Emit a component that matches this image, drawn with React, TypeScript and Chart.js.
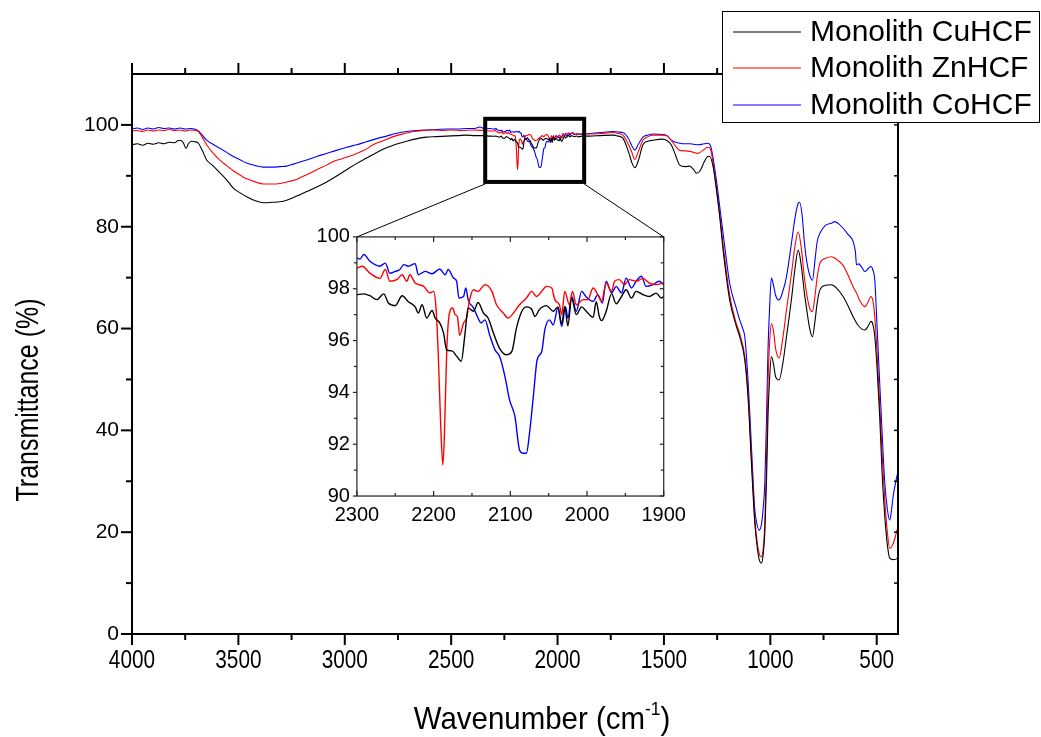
import React, { useEffect, useRef } from "react";
import { Chart, registerables } from "chart.js";

Chart.register(...registerables);

type P = [number, number];

const W = 1041;
const H = 737;
const FONT = '"Liberation Sans", Arial, sans-serif';

// ---------- tick labels ----------
const mainXTicks = [4000, 3500, 3000, 2500, 2000, 1500, 1000, 500];
const mainXMinor = [3750, 3250, 2750, 2250, 1750, 1250, 750];
const mainYTicks = [0, 20, 40, 60, 80, 100];
const mainYMinor = [10, 30, 50, 70, 90];
const mainYRight = [10, 20, 30, 40, 50, 60, 70, 80, 90, 100];
const insetXTicks = [2300, 2200, 2100, 2000, 1900];
const insetXMinor = [2250, 2150, 2050, 1950];
const insetYTicks = [90, 92, 94, 96, 98, 100];
const insetYMinor = [91, 93, 95, 97, 99];

const seriesNames = ["Monolith CuHCF", "Monolith ZnHCF", "Monolith CoHCF"];
const seriesColors = ["#000000", "#ff0000", "#0000ff"];
const xTitle = "Wavenumber (cm";
const xTitleSup = "-1";
const yTitle = "Transmittance (%)";

// zoom box and inset placement, in main data coordinates
const zoomBoxX = [2340, 1875];
const zoomBoxY = [101.2, 88.8];
const insetPlaceX = [2943, 1501];
const insetPlaceY = [78.0, 27.1];

// ---------- CuHCF (black) ----------
const cuPre: P[] = [
  [4000, 96.1], [3975, 96.3], [3950, 96.0], [3925, 96.4], [3900, 96.2], [3875, 96.5], [3850, 96.3],
  [3825, 96.6], [3800, 96.5], [3785, 96.9], [3775, 97.0], [3760, 96.6], [3746, 95.4], [3735, 96.3],
  [3720, 96.8], [3704, 96.7], [3688, 96.4], [3670, 95.0], [3649, 93.1], [3620, 92.0], [3587, 90.6],
  [3555, 89.2], [3524, 87.6], [3490, 86.6], [3461, 85.9], [3420, 85.1], [3383, 84.7], [3340, 84.8],
  [3305, 84.9], [3273, 85.2], [3242, 85.7], [3211, 86.3], [3179, 86.9], [3132, 87.8], [3085, 88.8],
  [3040, 89.9], [2991, 91.2], [2945, 92.4], [2898, 93.5], [2850, 94.6], [2804, 95.5], [2760, 96.2],
  [2710, 96.8], [2660, 97.3], [2616, 97.6], [2570, 97.7], [2522, 97.8], [2470, 97.9], [2428, 98.0],
  [2390, 97.9], [2349, 97.9], [2320, 97.8],
];
const cuInset: P[] = [
  [2300, 97.77], [2291, 97.8], [2283, 97.73], [2274, 97.58], [2265, 97.8], [2259, 97.45], [2250, 97.35],
  [2241, 97.73], [2233, 97.5], [2224, 97.3], [2220, 97.06], [2215, 97.38], [2209, 96.87], [2202, 97.16],
  [2198, 96.87], [2192, 96.68], [2187, 96.29], [2183, 95.64], [2176, 95.6], [2170, 95.4], [2164, 95.2],
  [2159, 96.29], [2155, 97.26], [2148, 97.13], [2142, 97.47], [2135, 97.06], [2129, 96.87], [2122, 96.29],
  [2114, 95.7], [2105, 95.45], [2098, 95.58], [2092, 96.48], [2085, 97.13], [2079, 97.3], [2072, 97.2],
  [2068, 96.93], [2062, 97.2], [2053, 97.35], [2044, 97.13], [2038, 97.3], [2033, 96.65], [2029, 97.32],
  [2025, 96.57], [2020, 97.64], [2014, 97.0], [2007, 97.3], [2001, 97.13], [1992, 96.9], [1988, 97.5],
  [1984, 96.93], [1981, 96.77], [1975, 97.13], [1968, 97.8], [1962, 97.42], [1955, 97.7], [1949, 97.96],
  [1942, 97.64], [1936, 97.9], [1927, 97.77], [1919, 97.7], [1910, 97.83], [1903, 97.64], [1900, 97.7],
];
const cuPost: P[] = [
  [1880, 97.8], [1848, 97.8], [1800, 97.9], [1739, 98.0], [1715, 97.8], [1693, 97.4], [1665, 94.5],
  [1650, 92.5], [1637, 91.6], [1620, 93.0], [1599, 96.1], [1575, 96.8], [1552, 97.0], [1505, 97.2],
  [1485, 96.9], [1466, 96.1], [1445, 94.0], [1426, 92.1], [1400, 91.8], [1379, 91.9], [1360, 91.2],
  [1347, 90.5], [1330, 91.0], [1310, 92.8], [1294, 93.8], [1285, 93.8], [1269, 91.8], [1253, 87.2],
  [1238, 82.0], [1222, 75.4], [1191, 65.6], [1160, 60.5], [1144, 58.4], [1120, 53.8], [1104, 46.0],
  [1088, 32.9], [1073, 21.8], [1060, 16.5], [1050, 14.3], [1042, 13.9], [1034, 15.5], [1026, 19.8],
  [1018, 30.0], [1011, 42.7], [1003, 50.5], [995, 54.5], [985, 53.0], [975, 50.5], [959, 49.9],
  [940, 53.5], [924, 58.4], [900, 66.0], [885, 71.5], [869, 75.4], [855, 72.5], [840, 67.0],
  [830, 64.0], [815, 60.0], [802, 58.4], [790, 61.5], [780, 65.0], [767, 67.6], [740, 68.5],
  [713, 68.6], [690, 68.0], [658, 66.3], [635, 64.5], [611, 62.3], [585, 60.5], [556, 59.7],
  [540, 60.5], [527, 61.4], [518, 60.8], [509, 58.4], [498, 52.0], [486, 42.7], [474, 31.0],
  [462, 23.0], [450, 17.5], [439, 14.9], [423, 14.6], [405, 14.8], [400, 15.0],
];

// ---------- ZnHCF (red) ----------
const znPre: P[] = [
  [4000, 98.8], [3975, 98.9], [3950, 98.7], [3925, 99.0], [3900, 98.8], [3875, 99.0], [3850, 98.9],
  [3825, 99.1], [3800, 98.9], [3775, 99.0], [3750, 98.8], [3725, 99.0], [3700, 98.9], [3688, 98.7],
  [3670, 97.6], [3649, 96.1], [3620, 94.5], [3587, 93.1], [3555, 92.0], [3524, 91.0], [3490, 90.1],
  [3461, 89.4], [3420, 88.8], [3383, 88.4], [3340, 88.4], [3305, 88.5], [3273, 88.8], [3242, 89.1],
  [3211, 89.6], [3179, 90.2], [3132, 91.2], [3085, 92.1], [3054, 92.8], [3010, 93.4], [2960, 94.1],
  [2910, 95.0], [2866, 96.1], [2820, 96.9], [2772, 97.7], [2720, 98.3], [2678, 98.7], [2630, 98.9],
  [2584, 99.0], [2540, 98.9], [2500, 99.0], [2450, 98.9], [2400, 99.0], [2349, 98.9], [2320, 98.8],
];
const znInset: P[] = [
  [2300, 98.8], [2293, 98.87], [2283, 98.6], [2270, 98.4], [2263, 98.74], [2257, 98.29], [2248, 98.35],
  [2241, 98.54], [2235, 98.29], [2231, 98.54], [2224, 98.22], [2213, 98.09], [2205, 97.84], [2200, 97.9],
  [2197, 97.32], [2194, 95.52], [2191, 92.94], [2188, 91.2], [2186, 92.3], [2183, 95.5], [2180, 96.93],
  [2175, 97.26], [2172, 97.0], [2169, 96.93], [2166, 96.2], [2161, 96.68], [2157, 96.87], [2153, 97.58],
  [2148, 97.96], [2142, 97.9], [2133, 98.16], [2124, 97.9], [2118, 97.38], [2109, 97.06], [2103, 96.87],
  [2096, 97.06], [2088, 97.38], [2079, 97.64], [2072, 97.9], [2066, 97.7], [2059, 97.9], [2053, 98.09],
  [2046, 98.03], [2042, 97.58], [2036, 97.38], [2033, 97.0], [2029, 97.9], [2023, 97.38], [2019, 97.9],
  [2014, 97.38], [2005, 97.58], [1999, 97.58], [1992, 98.03], [1986, 97.77], [1981, 97.51], [1975, 98.22],
  [1968, 97.9], [1964, 98.29], [1958, 98.35], [1951, 98.16], [1945, 98.35], [1936, 98.29], [1927, 98.4],
  [1919, 98.22], [1910, 98.16], [1900, 98.22],
];
const znPost: P[] = [
  [1880, 98.2], [1848, 98.2], [1800, 98.3], [1739, 98.5], [1715, 98.3], [1693, 98.0], [1665, 96.0],
  [1650, 94.5], [1637, 93.2], [1620, 94.8], [1599, 97.0], [1575, 97.7], [1552, 98.0], [1505, 98.0],
  [1485, 97.8], [1466, 97.0], [1445, 95.8], [1426, 95.0], [1400, 94.9], [1379, 94.8], [1360, 94.6],
  [1341, 94.4], [1320, 94.9], [1294, 95.6], [1282, 95.3], [1269, 92.5], [1253, 87.5], [1238, 82.5],
  [1222, 76.5], [1191, 66.5], [1160, 61.0], [1144, 59.0], [1120, 54.5], [1104, 47.0], [1088, 34.0],
  [1073, 22.7], [1060, 17.5], [1050, 15.5], [1042, 15.2], [1034, 16.5], [1026, 21.7], [1018, 34.0],
  [1011, 49.3], [1003, 57.5], [995, 61.0], [985, 59.5], [975, 56.0], [959, 54.2], [940, 58.5],
  [924, 63.7], [900, 71.0], [885, 76.0], [869, 79.0], [855, 76.0], [840, 70.0], [830, 67.0],
  [815, 64.0], [802, 63.3], [790, 66.5], [780, 70.0], [767, 72.8], [740, 73.8], [713, 74.1],
  [690, 73.6], [658, 72.4], [635, 70.5], [611, 68.2], [595, 67.0], [580, 65.5], [556, 64.3],
  [540, 65.3], [527, 66.3], [518, 65.5], [509, 62.3], [498, 55.0], [486, 45.3], [474, 35.0],
  [462, 26.2], [450, 20.0], [439, 16.8], [423, 17.7], [410, 19.5], [400, 21.2],
];

// ---------- CoHCF (blue) ----------
const coPre: P[] = [
  [4000, 99.2], [3975, 99.4], [3950, 99.1], [3925, 99.4], [3900, 99.2], [3875, 99.5], [3850, 99.3],
  [3825, 99.4], [3800, 99.2], [3775, 99.4], [3750, 99.2], [3725, 99.3], [3700, 99.1], [3688, 98.8],
  [3670, 98.0], [3649, 97.0], [3620, 96.2], [3587, 95.4], [3555, 94.6], [3524, 93.8], [3490, 93.1],
  [3461, 92.5], [3420, 92.0], [3383, 91.7], [3340, 91.7], [3305, 91.8], [3273, 91.9], [3242, 92.3],
  [3211, 92.7], [3179, 93.1], [3132, 93.8], [3085, 94.4], [3040, 95.0], [2991, 95.6], [2945, 96.1],
  [2898, 96.7], [2850, 97.3], [2804, 97.8], [2760, 98.3], [2710, 98.7], [2660, 98.9], [2616, 99.0],
  [2570, 99.1], [2522, 99.2], [2470, 99.2], [2428, 99.3], [2390, 99.3], [2365, 99.6], [2340, 99.2],
  [2320, 99.3],
];
const coInset: P[] = [
  [2300, 99.19], [2296, 99.15], [2291, 99.32], [2283, 99.06], [2270, 98.87], [2263, 98.99], [2257, 98.6],
  [2250, 98.67], [2244, 98.74], [2239, 98.93], [2233, 98.87], [2224, 98.97], [2220, 98.54], [2211, 98.67],
  [2202, 98.58], [2192, 98.76], [2185, 98.54], [2181, 98.74], [2174, 98.41], [2170, 98.29], [2167, 97.64],
  [2161, 97.7], [2158, 98.03], [2155, 97.58], [2148, 97.26], [2143, 96.93], [2138, 96.68], [2133, 96.8],
  [2127, 96.22], [2120, 95.64], [2114, 95.39], [2107, 94.61], [2101, 93.71], [2094, 93.07], [2088, 91.78],
  [2083, 91.65], [2079, 91.65], [2075, 92.42], [2070, 93.84], [2065, 95.26], [2059, 95.58], [2055, 96.42],
  [2049, 96.8], [2044, 96.6], [2038, 97.26], [2033, 96.55], [2028, 97.3], [2025, 96.87], [2020, 97.7],
  [2014, 97.13], [2007, 97.9], [2001, 97.68], [1992, 97.51], [1986, 97.77], [1980, 97.45], [1975, 98.29],
  [1968, 97.84], [1962, 98.09], [1955, 97.84], [1949, 98.41], [1942, 98.03], [1936, 98.29], [1929, 98.48],
  [1923, 98.09], [1914, 98.16], [1906, 98.29], [1900, 98.16],
];
const coPost: P[] = [
  [1880, 98.2], [1848, 98.3], [1800, 98.5], [1739, 98.7], [1715, 98.6], [1693, 98.5], [1665, 97.2],
  [1650, 95.8], [1637, 95.1], [1620, 96.2], [1599, 97.6], [1575, 98.0], [1552, 98.2], [1505, 98.1],
  [1485, 97.9], [1466, 97.0], [1445, 96.6], [1426, 96.4], [1400, 96.3], [1379, 96.3], [1360, 96.2],
  [1341, 96.1], [1320, 96.2], [1294, 96.4], [1282, 96.0], [1269, 93.5], [1253, 89.0], [1238, 84.0],
  [1222, 78.7], [1191, 68.9], [1160, 64.0], [1144, 61.7], [1128, 59.8], [1120, 58.4], [1104, 49.3],
  [1088, 36.1], [1073, 24.4], [1065, 22.0], [1053, 20.4], [1042, 21.5], [1034, 24.5], [1026, 29.6],
  [1018, 42.0], [1011, 55.8], [1003, 64.5], [995, 69.9], [985, 68.5], [975, 66.5], [959, 65.6],
  [940, 67.5], [924, 70.2], [900, 77.0], [885, 81.5], [869, 84.6], [862, 84.8], [850, 82.0],
  [840, 77.0], [830, 73.5], [815, 70.5], [802, 69.5], [790, 73.5], [780, 77.0], [767, 78.7],
  [740, 80.3], [713, 80.7], [697, 81.0], [680, 80.6], [658, 79.7], [635, 78.5], [611, 77.1],
  [600, 75.0], [595, 72.5], [585, 72.7], [570, 72.0], [556, 71.2], [540, 71.8], [527, 72.2],
  [518, 71.5], [509, 69.5], [498, 60.0], [486, 49.3], [474, 39.0], [462, 29.6], [450, 24.5],
  [439, 22.4], [430, 24.5], [423, 27.0], [410, 30.0], [400, 32.0],
];

const mainSeries: P[][] = [
  [...cuPre, ...cuInset, ...cuPost],
  [...znPre, ...znInset, ...znPost],
  [...coPre, ...coInset, ...coPost],
];
const insetSeries: P[][] = [cuInset, znInset, coInset];

// ---------- helpers ----------
function text(
  ctx: CanvasRenderingContext2D, s: string, x: number, y: number, font: string,
  align: CanvasTextAlign, baseline: CanvasTextBaseline, sx = 1, rot = 0
) {
  ctx.save();
  ctx.translate(x, y);
  if (rot) ctx.rotate(rot);
  ctx.scale(sx, 1);
  ctx.font = font;
  ctx.textAlign = align;
  ctx.textBaseline = baseline;
  ctx.fillStyle = "#000";
  ctx.fillText(s, 0, 0);
  ctx.restore();
}

function line(ctx: CanvasRenderingContext2D, x1: number, y1: number, x2: number, y2: number) {
  ctx.beginPath();
  ctx.moveTo(x1, y1);
  ctx.lineTo(x2, y2);
  ctx.stroke();
}

const mainDecor = {
  id: "mainDecor",
  afterDatasetsDraw(chart: any) {
    const ctx: CanvasRenderingContext2D = chart.ctx;
    const a = chart.chartArea;
    const xs = chart.scales.x;
    const ys = chart.scales.y;
    ctx.save();
    ctx.strokeStyle = "#000";
    ctx.lineCap = "butt";

    // ticks
    ctx.lineWidth = 2;
    mainXTicks.forEach((v) => {
      const px = xs.getPixelForValue(v);
      line(ctx, px, a.bottom, px, a.bottom + 11);
      line(ctx, px, a.top, px, a.top - 11);
    });
    mainXMinor.forEach((v) => {
      const px = xs.getPixelForValue(v);
      line(ctx, px, a.bottom, px, a.bottom + 6);
      line(ctx, px, a.top, px, a.top - 6);
    });
    mainYTicks.forEach((v) => {
      const py = ys.getPixelForValue(v);
      line(ctx, a.left, py, a.left - 11, py);
    });
    mainYMinor.forEach((v) => {
      const py = ys.getPixelForValue(v);
      line(ctx, a.left, py, a.left - 6, py);
    });
    ctx.lineWidth = 1.5;
    mainYRight.forEach((v) => {
      const py = ys.getPixelForValue(v);
      line(ctx, a.right, py, a.right - 4, py);
    });

    // frame
    ctx.lineWidth = 2;
    ctx.strokeRect(a.left, a.top, a.right - a.left, a.bottom - a.top);

    // tick labels
    mainXTicks.forEach((v) => {
      text(ctx, String(v), xs.getPixelForValue(v), a.bottom + 14, `26px ${FONT}`, "center", "top", 0.8);
    });
    mainYTicks.forEach((v) => {
      text(ctx, String(v), a.left - 13, ys.getPixelForValue(v), `21px ${FONT}`, "right", "middle");
    });

    // axis titles
    const tf = `32px ${FONT}`;
    const sf = `19px ${FONT}`;
    ctx.font = tf;
    const w1 = ctx.measureText(xTitle).width;
    const w3 = ctx.measureText(")").width;
    ctx.font = sf;
    const w2 = ctx.measureText(xTitleSup).width;
    const sx = 0.92;
    const total = (w1 + w2 + w3) * sx;
    const cx = 542;
    const by = 729;
    let x0 = cx - total / 2;
    text(ctx, xTitle, x0, by, tf, "left", "alphabetic", sx);
    x0 += w1 * sx;
    text(ctx, xTitleSup, x0, by - 14, sf, "left", "alphabetic", sx);
    x0 += w2 * sx;
    text(ctx, ")", x0, by, tf, "left", "alphabetic", sx);

    text(ctx, yTitle, 29, 400, tf, "center", "middle", 0.78, -Math.PI / 2);

    // zoom box
    const bx1 = xs.getPixelForValue(zoomBoxX[0]);
    const bx2 = xs.getPixelForValue(zoomBoxX[1]);
    const by1 = ys.getPixelForValue(zoomBoxY[0]);
    const by2 = ys.getPixelForValue(zoomBoxY[1]);
    ctx.lineWidth = 4;
    ctx.strokeRect(bx1, by1, bx2 - bx1, by2 - by1);

    // connectors to inset
    const ix1 = xs.getPixelForValue(insetPlaceX[0]);
    const ix2 = xs.getPixelForValue(insetPlaceX[1]);
    const iy1 = ys.getPixelForValue(insetPlaceY[0]);
    ctx.lineWidth = 1;
    line(ctx, bx1, by2 + 2, ix1, iy1);
    line(ctx, bx2, by2 + 2, ix2, iy1);

    ctx.restore();
  },
  afterDraw(chart: any) {
    const ctx: CanvasRenderingContext2D = chart.ctx;
    ctx.save();
    // legend box
    const lx = 722, ly = 11, lw = 318, lh = 112;
    ctx.fillStyle = "#fff";
    ctx.fillRect(lx, ly, lw, lh);
    ctx.strokeStyle = "#000";
    ctx.lineWidth = 1;
    ctx.strokeRect(lx + 0.5, ly + 0.5, lw - 1, lh - 1);
    const rows = [32, 68, 105];
    seriesNames.forEach((name, i) => {
      ctx.strokeStyle = seriesColors[i];
      ctx.lineWidth = 1.2;
      line(ctx, 733, rows[i], 801, rows[i]);
      text(ctx, name, 810, rows[i] + 1, `30px ${FONT}`, "left", "middle");
    });
    ctx.restore();
  },
};

const insetDecor = {
  id: "insetDecor",
  afterDatasetsDraw(chart: any) {
    const ctx: CanvasRenderingContext2D = chart.ctx;
    const a = chart.chartArea;
    const xs = chart.scales.x;
    const ys = chart.scales.y;
    ctx.save();
    ctx.strokeStyle = "#222";
    ctx.lineWidth = 1.2;
    insetXTicks.forEach((v) => {
      const px = xs.getPixelForValue(v);
      line(ctx, px, a.bottom, px, a.bottom - 5);
      line(ctx, px, a.top, px, a.top + 5);
    });
    insetXMinor.forEach((v) => {
      const px = xs.getPixelForValue(v);
      line(ctx, px, a.bottom, px, a.bottom - 3);
      line(ctx, px, a.top, px, a.top + 3);
    });
    insetYTicks.forEach((v) => {
      const py = ys.getPixelForValue(v);
      line(ctx, a.left, py, a.left - 4, py);
      line(ctx, a.right, py, a.right - 4, py);
    });
    insetYMinor.forEach((v) => {
      const py = ys.getPixelForValue(v);
      line(ctx, a.left, py, a.left - 3, py);
      line(ctx, a.right, py, a.right - 3, py);
    });
    ctx.strokeRect(a.left, a.top, a.right - a.left, a.bottom - a.top);

    insetXTicks.forEach((v) => {
      text(ctx, String(v), xs.getPixelForValue(v), a.bottom + 9, `20px ${FONT}`, "center", "top");
    });
    insetYTicks.forEach((v) => {
      text(ctx, String(v), a.left - 7, ys.getPixelForValue(v), `20px ${FONT}`, "right", "middle");
    });
    ctx.restore();
  },
};

export default function App() {
  const mainRef = useRef<HTMLCanvasElement | null>(null);
  const insetRef = useRef<HTMLCanvasElement | null>(null);

  useEffect(() => {
    document.body.style.margin = "0";
    const mainCtx = mainRef.current!.getContext("2d")!;
    const main = new Chart(mainCtx, {
      type: "line",
      data: {
        datasets: mainSeries.map((pts, i) => ({
          label: seriesNames[i],
          data: pts.map(([x, y]) => ({ x, y })),
          borderColor: seriesColors[i],
          borderWidth: 1.1,
          pointRadius: 0,
          cubicInterpolationMode: "monotone",
          fill: false,
        })),
      },
      options: {
        animation: false,
        responsive: false,
        devicePixelRatio: 1,
        layout: { padding: { left: 132, right: 143, top: 74, bottom: 103 } },
        scales: {
          x: { type: "linear", min: 400, max: 4000, reverse: true, display: false },
          y: { type: "linear", min: 0, max: 110, display: false },
        },
        plugins: { legend: { display: false }, tooltip: { enabled: false } },
      },
      plugins: [mainDecor],
    } as any);

    const xs: any = main.scales.x;
    const ys: any = main.scales.y;
    const left = xs.getPixelForValue(insetPlaceX[0]);
    const right = xs.getPixelForValue(insetPlaceX[1]);
    const top = ys.getPixelForValue(insetPlaceY[0]);
    const bottom = ys.getPixelForValue(insetPlaceY[1]);

    const insetCtx = insetRef.current!.getContext("2d")!;
    const inset = new Chart(insetCtx, {
      type: "line",
      data: {
        datasets: insetSeries.map((pts, i) => ({
          label: seriesNames[i],
          data: pts.map(([x, y]) => ({ x, y })),
          borderColor: seriesColors[i],
          borderWidth: 1.4,
          pointRadius: 0,
          cubicInterpolationMode: "monotone",
          fill: false,
        })),
      },
      options: {
        animation: false,
        responsive: false,
        devicePixelRatio: 1,
        layout: { padding: { left, top, right: W - right, bottom: H - bottom } },
        scales: {
          x: { type: "linear", min: 1900, max: 2300, reverse: true, display: false },
          y: { type: "linear", min: 90, max: 100, display: false },
        },
        plugins: { legend: { display: false }, tooltip: { enabled: false } },
      },
      plugins: [insetDecor],
    } as any);

    return () => {
      inset.destroy();
      main.destroy();
    };
  }, []);

  return (
    <div style={{ position: "fixed", left: 0, top: 0, width: W, height: H, background: "#fff" }}>
      <canvas ref={mainRef} width={W} height={H} style={{ position: "absolute", left: 0, top: 0, width: W, height: H }} />
      <canvas ref={insetRef} width={W} height={H} style={{ position: "absolute", left: 0, top: 0, width: W, height: H }} />
    </div>
  );
}
